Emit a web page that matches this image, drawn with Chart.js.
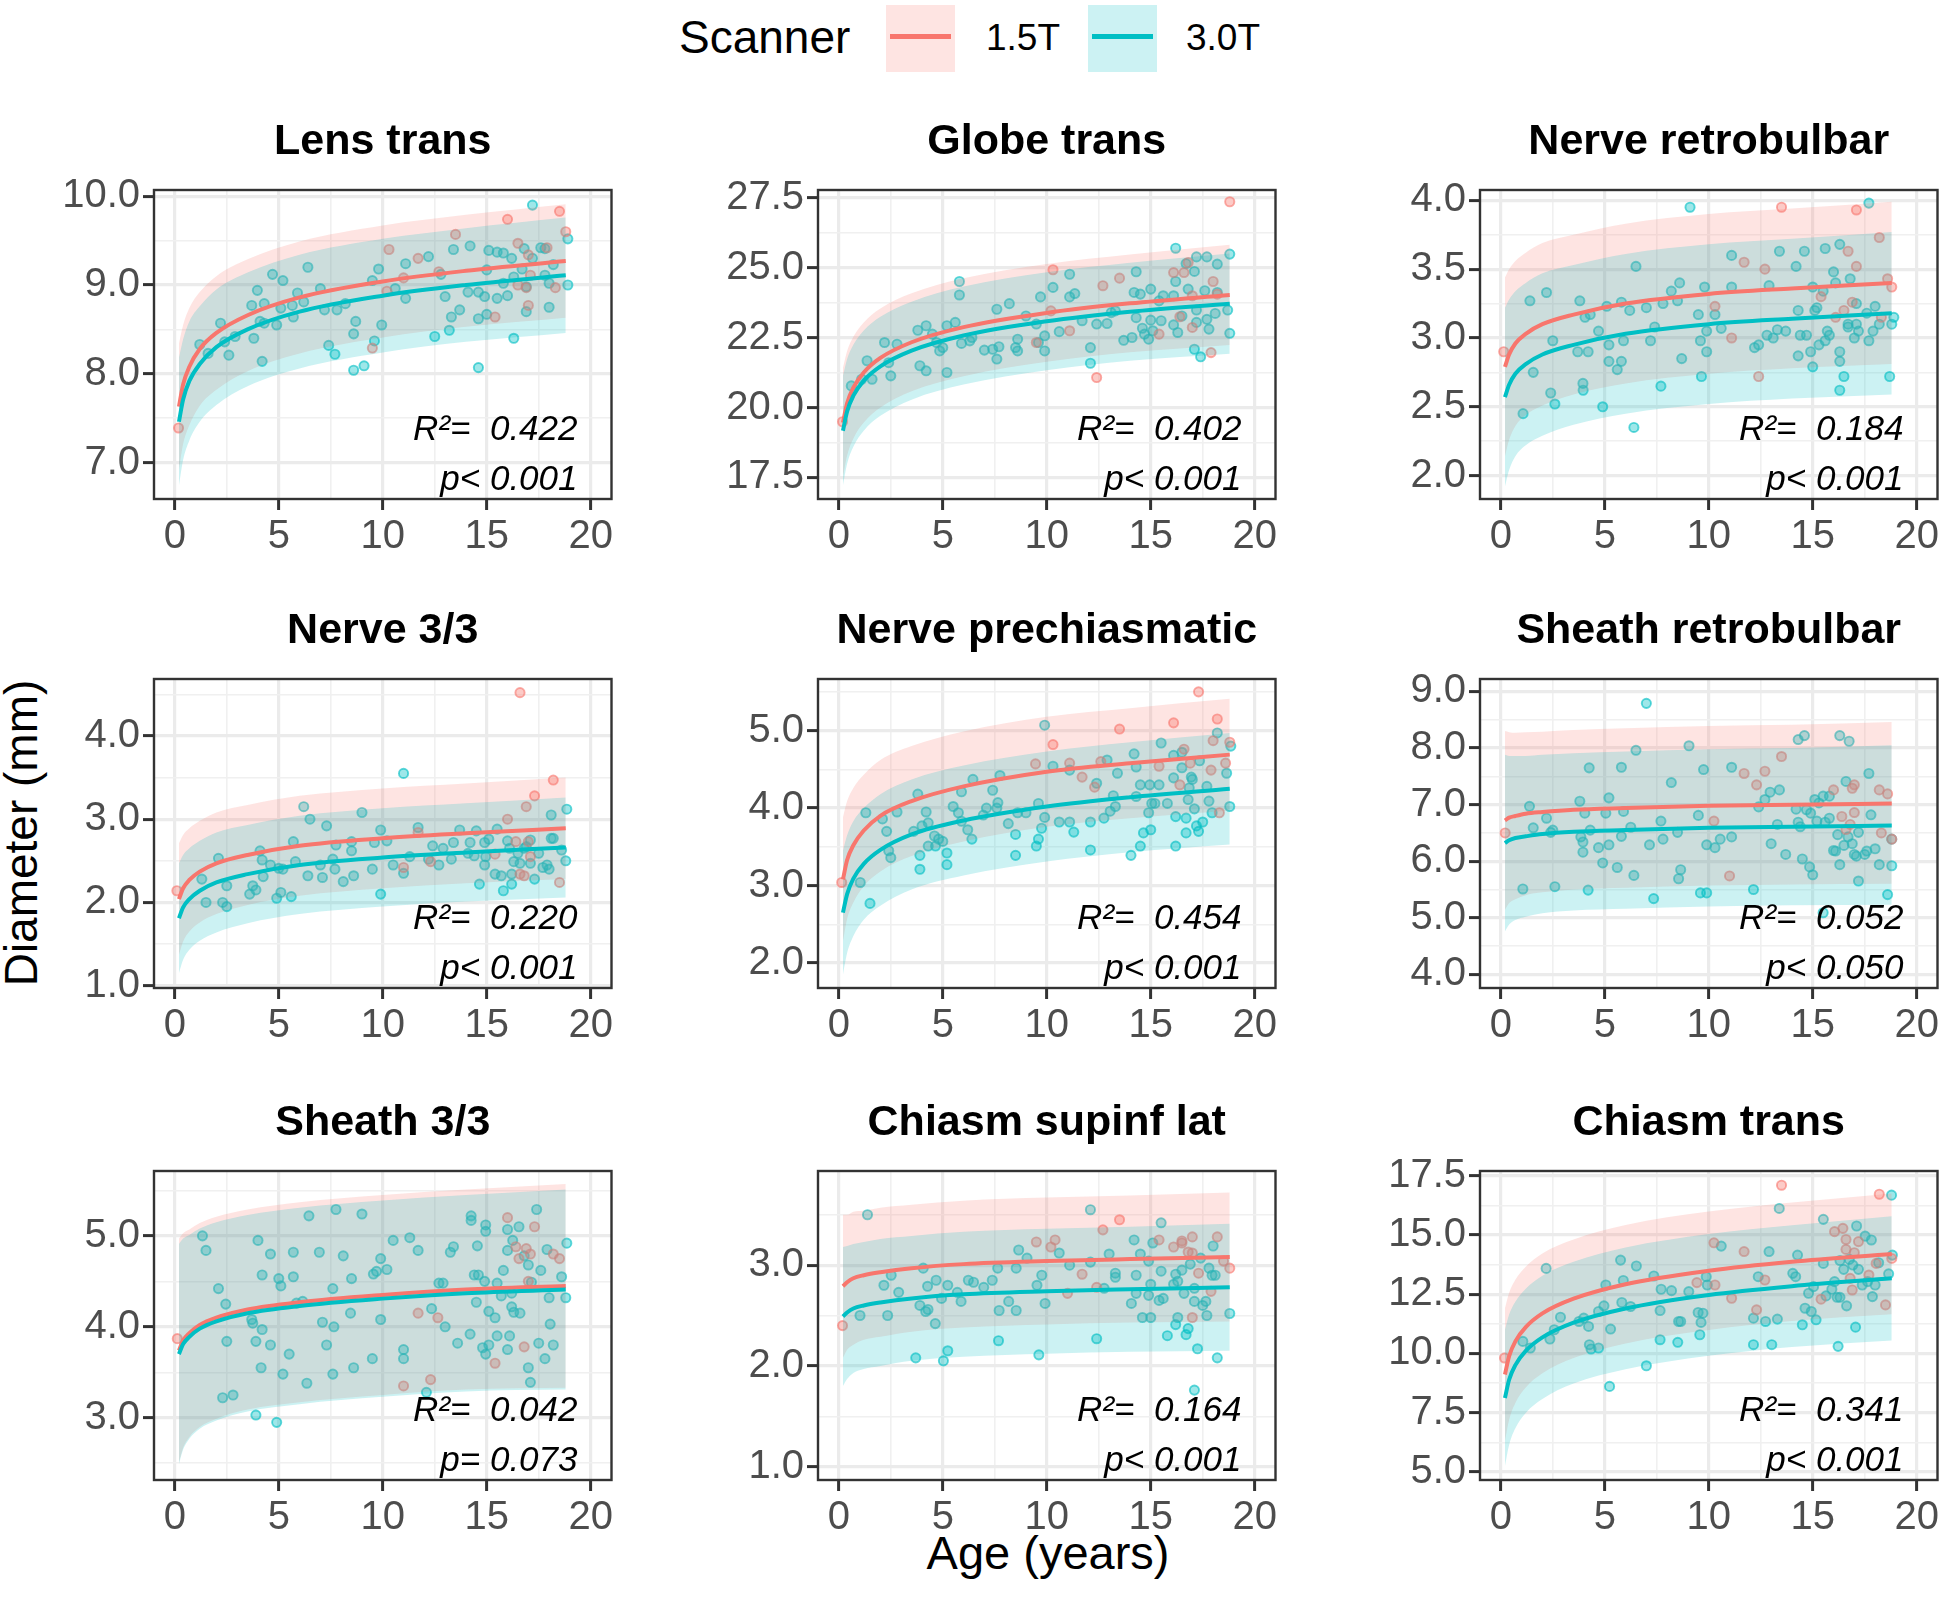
<!DOCTYPE html>
<html>
<head>
<meta charset="UTF-8">
<script src="https://cdn.jsdelivr.net/npm/chart.js@4.4.0/dist/chart.umd.min.js"></script>
<title>Diameter by age</title>
<style>
body{margin:0;background:#fff;font-family:"Liberation Sans",Arial,sans-serif}
#page{position:relative;width:1944px;height:1597px;overflow:hidden;background:#fff}
.panel{position:absolute}
.txt{position:absolute;color:#000;white-space:nowrap;line-height:1}
.key{position:absolute;top:5px;width:69px;height:67px}
.key span{position:absolute;left:4px;right:4px;top:29px;height:5px}
</style>
</head>
<body>
<div id="page">
  <div class="txt" style="left:679px;top:14px;font-size:46px">Scanner</div>
  <div class="key" style="left:886px;background:rgba(248,118,109,0.2)"><span style="background:#F8766D"></span></div>
  <div class="txt" style="left:986px;top:19px;font-size:37px">1.5T</div>
  <div class="key" style="left:1088px;background:rgba(0,191,196,0.2)"><span style="background:#00BFC4"></span></div>
  <div class="txt" style="left:1186px;top:19px;font-size:37px">3.0T</div>
  <div class="txt" style="left:1048px;top:1529px;font-size:47px;transform:translateX(-50%)">Age (years)</div>
  <div class="txt" style="left:21px;top:833px;font-size:46px;transform:translate(-50%,-50%) rotate(-90deg)">Diameter (mm)</div>
</div>
<script>
// ages where the fitted curves / bands are read
var ages = [0.2, 0.4, 0.7, 1.2, 2, 3.5, 6, 10, 14, 18.8];
var xTicks = [0, 5, 10, 15, 20];

// ---- Lens trans
var lensRed = [[0.18,7.39],[10.3,9.40],[11.7,9.30],[13.5,9.57],[12.7,9.15],[11.0,9.08],[10.2,8.93],[9.5,8.29],[15.4,8.64],[16.0,9.74],[16.5,9.0],[16.5,9.47],[17.0,9.34],[17.0,8.77],[17.1,9.11],[17.9,9.42],[18.3,8.97],[18.5,9.83],[18.8,9.60],[16.9,8.97]];
var lensTeal = [[1.2,8.33],[1.6,8.23],[2.2,8.57],[2.6,8.21],[2.4,8.36],[2.9,8.42],[3.8,8.40],[3.7,8.77],[3.97,8.94],[4.3,8.79],[4.1,8.59],[4.2,8.14],[4.3,8.57],[4.7,9.12],[4.9,8.55],[5.2,9.05],[5.1,8.74],[5.65,8.77],[5.7,8.64],[5.9,8.91],[6.2,8.81],[6.4,9.20],[7.0,8.96],[7.2,8.72],[7.4,8.32],[7.7,8.22],[7.8,8.72],[8.2,8.79],[8.6,8.45],[8.6,8.04],[8.7,8.59],[9.1,8.09],[9.5,9.05],[9.6,8.37],[9.8,9.18],[9.95,8.55],[10.6,8.96],[11.1,9.24],[11.1,8.85],[12.2,9.32],[12.5,8.42],[12.8,9.12],[13.0,8.87],[13.2,8.49],[13.3,8.64],[13.4,9.40],[13.7,8.72],[14.2,9.44],[14.1,8.92],[14.6,8.92],[14.6,8.62],[14.6,8.07],[14.9,8.87],[15.0,8.67],[15.1,9.39],[15.0,9.17],[15.5,9.37],[15.5,8.85],[15.8,9.36],[15.8,9.02],[16.0,8.88],[16.2,9.30],[16.3,9.09],[16.3,8.40],[16.7,9.18],[16.8,9.41],[16.9,8.70],[16.9,8.98],[17.2,9.90],[17.2,9.30],[17.6,9.42],[17.8,9.41],[17.8,9.11],[18.0,8.75],[18.0,9.02],[18.2,9.23],[18.9,9.52],[18.9,9.00]];
var lensRedFit = [7.63,7.88,8.08,8.28,8.46,8.66,8.86,9.04,9.16,9.27];
var lensRedLo = [6.92,7.21,7.42,7.64,7.82,8.03,8.23,8.41,8.53,8.63];
var lensRedHi = [8.34,8.55,8.74,8.92,9.10,9.29,9.49,9.67,9.79,9.91];
var lensTealFit = [7.46,7.71,7.92,8.11,8.30,8.50,8.70,8.88,9.00,9.11];
var lensTealLo = [6.74,7.03,7.25,7.46,7.65,7.86,8.06,8.24,8.36,8.46];
var lensTealHi = [8.18,8.39,8.59,8.76,8.95,9.14,9.34,9.52,9.64,9.76];

// ---- Globe trans
var globeRed = [[0.18,19.49],[10.3,24.92],[13.5,24.62],[12.7,24.35],[10.2,23.45],[11.1,22.74],[9.5,22.32],[12.4,21.07],[15.4,22.62],[16.1,24.82],[16.6,24.82],[16.8,25.18],[16.4,23.24],[17.0,23.99],[17.0,22.86],[17.9,21.96],[18.0,24.5],[18.2,24.05],[18.8,27.35]];
var globeTeal = [[0.6,20.77],[1.1,21.01],[1.36,21.67],[1.6,21.01],[2.2,22.32],[2.4,21.6],[2.5,21.13],[2.8,22.26],[3.8,22.76],[3.9,21.49],[4.2,21.31],[4.2,22.92],[4.5,22.62],[4.7,22.32],[4.85,22.02],[5.0,22.14],[5.2,21.25],[5.2,22.92],[5.6,23.04],[5.8,24.5],[5.8,24.02],[5.9,22.29],[6.3,22.38],[6.4,22.5],[7.0,22.05],[7.4,22.08],[7.6,23.51],[7.6,21.73],[7.7,22.17],[8.2,23.71],[8.5,22.14],[8.6,22.02],[8.6,22.44],[9.0,23.27],[9.5,22.98],[9.6,22.32],[9.7,23.95],[9.9,22.56],[9.9,22.02],[10.3,24.29],[10.6,22.71],[11.1,24.76],[11.1,23.95],[11.35,24.07],[11.7,23.1],[12.1,22.14],[12.1,21.58],[12.4,22.98],[12.9,23.0],[13.1,23.39],[13.3,23.45],[13.7,22.4],[14.1,22.5],[14.2,24.11],[14.3,23.21],[14.3,24.85],[14.5,24.05],[14.6,22.83],[14.7,22.62],[14.9,22.44],[15.0,24.23],[15.0,23.12],[15.1,22.74],[15.4,23.81],[15.5,23.1],[15.6,23.99],[16.1,23.99],[16.1,22.95],[16.2,24.5],[16.2,25.69],[16.3,22.68],[16.5,23.27],[16.7,25.14],[16.8,24.23],[17.1,24.86],[17.2,25.38],[17.2,23.48],[17.1,22.08],[17.2,23.04],[17.4,21.81],[17.6,24.17],[17.7,23.15],[17.7,25.38],[17.8,22.8],[18.1,23.36],[18.2,25.12],[18.2,24.11],[18.7,23.48],[18.8,25.48],[18.8,22.65]];
var globeRedFit = [19.46,20.15,20.71,21.25,21.77,22.33,22.87,23.38,23.72,24.02];
var globeRedLo = [17.50,18.28,18.89,19.46,20.00,20.58,21.12,21.63,21.97,22.23];
var globeRedHi = [21.42,22.02,22.53,23.04,23.54,24.08,24.62,25.13,25.47,25.81];
var globeTealFit = [19.17,19.86,20.42,20.96,21.47,22.03,22.57,23.08,23.42,23.71];
var globeTealLo = [17.21,17.99,18.60,19.17,19.70,20.28,20.82,21.33,21.67,21.92];
var globeTealHi = [21.13,21.73,22.24,22.75,23.24,23.78,24.32,24.83,25.17,25.50];

// ---- Nerve retrobulbar
var nrRed = [[0.14,2.90],[10.3,3.23],[11.1,3.0],[11.7,3.55],[12.4,2.72],[12.7,3.50],[13.5,3.95],[15.4,3.30],[16.1,3.15],[16.5,3.20],[16.7,3.63],[16.9,3.26],[17.1,3.52],[17.1,3.93],[18.2,3.73],[18.3,3.15],[18.6,3.43],[18.8,3.37]];
var nrTeal = [[1.07,2.45],[1.4,3.27],[1.56,2.75],[2.2,3.33],[2.4,2.60],[2.5,2.98],[2.6,2.52],[3.7,2.90],[3.8,3.27],[3.95,2.67],[3.96,2.62],[4.05,3.15],[4.2,2.90],[4.3,3.17],[4.7,3.05],[4.9,2.50],[5.1,3.23],[5.2,2.95],[5.2,2.83],[5.6,2.77],[5.8,3.26],[5.8,2.83],[5.9,2.98],[6.2,3.20],[6.4,2.35],[6.5,3.52],[7.0,3.22],[7.2,2.98],[7.4,3.08],[7.7,2.65],[7.8,3.25],[8.2,3.34],[8.5,3.27],[8.6,3.40],[8.7,2.85],[9.1,3.95],[9.5,3.17],[9.6,2.98],[9.65,2.72],[9.8,3.37],[9.9,2.90],[9.9,3.05],[10.3,3.17],[10.6,3.07],[11.1,3.60],[11.1,3.37],[12.2,2.93],[12.4,2.95],[12.8,3.02],[12.9,3.38],[13.1,3.0],[13.3,3.06],[13.4,3.63],[13.7,3.05],[14.2,3.52],[14.3,3.20],[14.3,2.87],[14.4,3.02],[14.6,3.63],[14.7,3.02],[14.9,2.90],[15.0,3.37],[15.0,2.79],[15.1,3.20],[15.2,3.22],[15.3,2.95],[15.5,3.34],[15.6,3.65],[15.6,2.98],[15.7,3.05],[15.8,3.02],[16.0,3.48],[16.1,3.40],[16.3,2.90],[16.3,2.83],[16.3,2.62],[16.3,3.68],[16.5,2.72],[16.7,3.10],[16.7,3.08],[16.8,3.43],[17.0,3.00],[17.1,3.10],[17.1,3.25],[17.2,3.05],[17.6,3.18],[17.7,2.98],[17.7,3.98],[17.9,3.05],[18.0,3.23],[18.2,3.10],[18.7,2.72],[18.8,3.10],[18.9,3.15]];
var nrRedFit = [2.79,2.88,2.96,3.03,3.10,3.17,3.25,3.32,3.36,3.40];
var nrRedLo = [2.14,2.26,2.36,2.44,2.51,2.59,2.67,2.74,2.78,2.81];
var nrRedHi = [3.44,3.50,3.56,3.62,3.69,3.75,3.83,3.90,3.94,3.99];
var nrTealFit = [2.57,2.66,2.74,2.81,2.88,2.95,3.03,3.10,3.14,3.18];
var nrTealLo = [1.92,2.04,2.14,2.22,2.29,2.37,2.45,2.52,2.56,2.59];
var nrTealHi = [3.22,3.28,3.34,3.40,3.47,3.53,3.61,3.68,3.72,3.77];

// ---- Nerve 3/3
var n33Red = [[0.1,2.14],[11.0,2.42],[11.7,2.84],[12.3,2.49],[15.4,2.58],[16.0,3.0],[16.4,2.73],[16.6,4.52],[16.6,2.34],[16.8,2.32],[16.9,3.15],[17.0,2.73],[17.1,2.55],[17.3,3.28],[18.2,3.47],[18.5,2.24]];
var n33Teal = [[1.3,2.28],[1.5,2.0],[2.1,2.53],[2.3,2.0],[2.5,2.20],[2.5,1.95],[3.6,2.10],[3.75,2.20],[3.9,2.15],[4.1,2.62],[4.2,2.51],[4.25,2.31],[4.6,2.45],[4.9,2.05],[5.0,2.41],[5.1,2.12],[5.2,2.40],[5.6,2.07],[5.7,2.73],[5.8,2.49],[6.2,3.15],[6.4,2.32],[6.5,3.0],[7.0,2.45],[7.1,2.30],[7.3,2.92],[7.6,2.52],[7.7,2.40],[7.75,2.69],[8.1,2.25],[8.5,2.62],[8.6,2.32],[8.5,2.73],[9.0,3.08],[9.5,2.40],[9.6,2.72],[9.9,2.87],[9.9,2.10],[10.2,2.74],[10.5,2.45],[11.0,3.55],[11.0,2.35],[11.3,2.55],[11.7,2.90],[12.2,2.52],[12.4,2.68],[12.7,2.45],[12.9,2.65],[13.3,2.52],[13.4,2.72],[13.7,2.87],[14.1,2.59],[14.2,2.72],[14.4,2.56],[14.5,2.86],[14.65,2.22],[14.9,2.45],[14.9,2.72],[14.95,2.55],[15.1,2.76],[15.4,2.34],[15.5,2.88],[15.7,2.32],[15.8,2.14],[16.0,2.74],[16.1,2.65],[16.2,2.34],[16.2,2.22],[16.3,2.49],[16.5,2.59],[16.6,2.47],[16.8,2.65],[16.9,2.67],[17.1,2.75],[17.1,2.47],[17.3,2.28],[17.5,2.59],[17.7,2.42],[17.9,2.45],[18.0,2.40],[18.1,2.77],[18.1,3.05],[18.2,2.77],[18.6,2.63],[18.8,2.50],[18.85,3.12]];
var n33RedFit = [2.04,2.17,2.27,2.37,2.47,2.57,2.68,2.77,2.83,2.89];
var n33RedLo = [1.37,1.53,1.65,1.76,1.86,1.97,2.08,2.17,2.23,2.28];
var n33RedHi = [2.71,2.81,2.89,2.98,3.08,3.17,3.28,3.37,3.43,3.50];
var n33TealFit = [1.81,1.94,2.04,2.14,2.24,2.34,2.45,2.54,2.60,2.66];
var n33TealLo = [1.15,1.31,1.43,1.54,1.64,1.75,1.86,1.95,2.01,2.06];
var n33TealHi = [2.47,2.57,2.65,2.74,2.84,2.93,3.04,3.13,3.19,3.26];

// ---- Nerve prechiasmatic
var npRed = [[0.14,3.04],[9.46,4.57],[10.3,4.82],[11.1,4.58],[11.7,4.40],[12.3,4.27],[12.6,4.60],[13.5,5.02],[15.4,4.54],[16.1,5.10],[16.4,4.30],[16.6,4.76],[16.9,4.58],[17.3,5.50],[17.9,4.49],[18.2,5.15],[18.0,4.87],[18.3,3.94],[18.6,4.58],[18.8,4.85]];
var npTeal = [[1.03,3.04],[1.3,3.94],[1.5,2.77],[2.1,3.86],[2.3,3.70],[2.4,3.45],[2.5,3.36],[2.8,3.95],[3.6,3.70],[3.8,4.18],[3.9,3.39],[3.9,3.21],[4.0,3.77],[4.2,3.95],[4.3,3.51],[4.3,3.81],[4.6,3.64],[4.65,3.51],[4.8,3.60],[5.0,3.57],[5.2,3.42],[5.2,3.27],[5.5,4.02],[5.75,3.94],[5.9,4.21],[5.9,3.83],[6.2,3.72],[6.4,3.60],[6.45,4.37],[6.95,3.91],[7.1,4.00],[7.4,4.23],[7.6,4.0],[7.65,4.07],[7.75,4.42],[8.15,3.80],[8.5,3.66],[8.5,3.39],[8.6,3.94],[9.0,3.94],[9.5,3.51],[9.6,3.60],[9.6,4.06],[9.75,3.74],[9.9,5.07],[9.9,3.88],[10.3,4.54],[10.6,3.82],[11.1,3.82],[11.1,4.49],[11.3,3.69],[12.1,3.82],[12.1,3.46],[12.4,4.32],[12.75,3.87],[12.9,4.62],[13.05,3.96],[13.2,4.16],[13.3,4.02],[13.4,4.45],[14.05,3.39],[14.2,4.70],[14.3,4.15],[14.3,4.53],[14.5,4.30],[14.5,3.51],[14.65,3.68],[14.9,3.94],[14.95,4.30],[15.0,3.72],[15.05,4.06],[15.2,4.06],[15.4,4.30],[15.5,4.84],[15.8,4.06],[16.1,4.39],[16.1,4.68],[16.2,3.89],[16.2,3.51],[16.5,4.52],[16.5,4.72],[16.7,3.87],[16.7,3.68],[16.8,4.11],[16.85,4.26],[16.95,4.40],[17.0,4.37],[17.1,3.99],[17.2,3.77],[17.3,3.70],[17.35,4.61],[17.5,3.82],[17.7,4.28],[17.8,4.09],[17.95,3.94],[18.2,4.97],[18.65,4.45],[18.8,4.02],[18.85,4.80]];
var npRedFit = [3.08,3.33,3.52,3.71,3.90,4.09,4.28,4.47,4.58,4.69];
var npRedLo = [2.28,2.57,2.78,2.99,3.18,3.38,3.57,3.76,3.87,3.97];
var npRedHi = [3.88,4.09,4.26,4.43,4.62,4.80,4.99,5.18,5.29,5.41];
var npTealFit = [2.65,2.89,3.09,3.28,3.46,3.66,3.84,4.02,4.14,4.25];
var npTealLo = [1.85,2.13,2.35,2.56,2.74,2.95,3.13,3.31,3.43,3.53];
var npTealHi = [3.45,3.65,3.83,4.00,4.18,4.37,4.55,4.73,4.85,4.97];

// ---- Sheath retrobulbar
var srRed = [[0.21,6.50],[10.25,6.71],[11.0,5.74],[11.7,7.55],[12.3,7.35],[12.7,7.59],[13.5,7.85],[16.0,7.26],[16.4,6.79],[16.6,6.56],[16.8,6.65],[16.9,7.29],[17.0,7.35],[17.0,6.86],[18.2,7.26],[18.3,6.5],[18.6,7.19],[18.8,6.39]];
var srTeal = [[1.06,5.51],[1.38,6.97],[1.56,6.59],[2.2,6.76],[2.4,6.51],[2.5,6.55],[2.6,5.55],[3.8,7.06],[3.85,6.43],[3.95,6.34],[3.95,6.16],[4.04,6.85],[4.2,5.49],[4.25,7.65],[4.3,6.55],[4.7,6.24],[4.9,5.97],[5.05,6.85],[5.2,7.12],[5.2,6.29],[5.6,5.89],[5.8,6.44],[5.8,7.66],[5.9,6.88],[6.25,6.6],[6.4,5.75],[6.5,7.96],[7.0,8.79],[7.15,6.29],[7.35,5.34],[7.7,6.71],[7.8,6.39],[8.2,7.39],[8.5,6.51],[8.55,5.69],[8.65,5.85],[9.05,8.04],[9.5,6.81],[9.6,5.44],[9.75,7.62],[9.9,6.29],[9.9,5.44],[10.3,6.24],[10.55,6.39],[11.1,6.43],[11.1,7.66],[12.15,5.5],[12.4,6.96],[12.7,7.09],[12.95,7.22],[13.0,6.31],[13.3,6.65],[13.4,7.26],[13.7,6.12],[14.2,6.92],[14.3,8.15],[14.3,6.69],[14.4,6.61],[14.5,6.04],[14.6,8.22],[14.7,6.91],[14.85,5.9],[14.9,6.85],[15.0,5.76],[15.1,7.09],[15.2,6.71],[15.3,7.03],[15.5,5.09],[15.5,7.15],[15.6,6.69],[15.8,7.15],[15.8,6.76],[16.0,6.19],[16.1,6.18],[16.2,6.47],[16.3,8.22],[16.3,5.94],[16.5,6.28],[16.6,7.41],[16.7,6.43],[16.75,8.12],[16.9,6.31],[17.0,6.12],[17.1,6.09],[17.2,6.51],[17.2,5.65],[17.5,6.12],[17.6,6.18],[17.7,7.55],[17.8,6.82],[18.0,6.22],[18.2,5.94],[18.6,5.41],[18.8,5.92],[18.8,6.39]];
var srRedFit = [6.72,6.77,6.80,6.84,6.87,6.91,6.94,6.98,7.00,7.02];
var srRedLo = [5.14,5.26,5.33,5.40,5.45,5.50,5.53,5.57,5.59,5.60];
var srRedHi = [8.30,8.28,8.27,8.28,8.29,8.32,8.35,8.39,8.41,8.46];
var srTealFit = [6.32,6.37,6.41,6.44,6.48,6.52,6.55,6.59,6.61,6.63];
var srTealLo = [4.76,4.88,4.96,5.02,5.08,5.13,5.16,5.20,5.22,5.23];
var srTealHi = [7.88,7.86,7.86,7.86,7.88,7.91,7.94,7.98,8.00,8.05];

// ---- Sheath 3/3
var s33Red = [[0.12,3.87],[11.0,3.35],[11.7,4.15],[12.3,3.42],[12.65,4.10],[15.4,3.60],[16.0,5.20],[16.4,4.88],[16.55,4.75],[16.8,3.78],[16.9,4.86],[17.0,4.50],[17.1,4.80],[17.3,5.10],[18.2,4.80],[18.5,4.75]];
var s33Teal = [[1.33,5.0],[1.5,4.84],[2.1,4.42],[2.3,3.22],[2.45,4.25],[2.5,3.84],[2.8,3.25],[3.7,4.08],[3.75,4.04],[3.9,3.84],[3.9,3.03],[4.0,4.95],[4.15,3.55],[4.2,4.57],[4.2,3.97],[4.6,3.80],[4.6,4.80],[4.9,2.95],[5.0,4.53],[5.1,4.45],[5.2,3.48],[5.5,3.70],[5.7,4.82],[5.7,4.55],[5.85,4.26],[6.15,4.28],[6.35,3.38],[6.45,5.22],[6.95,4.82],[7.1,4.05],[7.3,3.80],[7.6,4.42],[7.6,3.48],[7.65,4.0],[7.75,5.29],[8.1,4.78],[8.45,4.15],[8.5,4.53],[8.6,3.55],[9.0,5.24],[9.5,3.65],[9.55,4.58],[9.7,4.61],[9.9,4.75],[9.9,4.08],[10.2,4.63],[10.5,4.95],[11.0,3.75],[11.0,3.65],[11.3,4.98],[11.7,4.84],[12.1,3.28],[12.35,4.20],[12.7,4.48],[12.9,4.48],[13.0,4.0],[13.25,4.82],[13.4,4.88],[13.6,3.82],[14.2,3.92],[14.25,5.22],[14.25,5.17],[14.4,4.57],[14.5,4.27],[14.55,4.89],[14.6,4.57],[14.8,3.77],[14.9,4.50],[14.95,3.70],[14.95,5.05],[14.95,5.12],[15.1,3.80],[15.1,4.17],[15.4,4.10],[15.5,4.48],[15.5,3.90],[15.7,4.34],[15.8,4.62],[16.0,3.75],[16.0,5.07],[16.0,4.84],[16.1,3.90],[16.2,4.37],[16.2,4.22],[16.25,4.95],[16.3,4.16],[16.55,5.10],[16.6,4.15],[16.8,4.78],[17.0,3.55],[17.0,4.68],[17.1,3.39],[17.15,4.49],[17.4,5.29],[17.5,3.82],[17.6,4.62],[17.8,3.65],[17.9,4.85],[18.0,4.32],[18.05,4.03],[18.2,3.80],[18.6,4.55],[18.8,4.32],[18.85,4.92]];
var s33RedFit = [3.74,3.85,3.93,4.02,4.10,4.19,4.27,4.35,4.41,4.45];
var s33RedLo = [2.51,2.67,2.79,2.90,2.99,3.09,3.17,3.25,3.31,3.33];
var s33RedHi = [4.97,5.03,5.07,5.14,5.21,5.29,5.37,5.45,5.51,5.57];
var s33TealFit = [3.70,3.81,3.89,3.98,4.06,4.15,4.23,4.31,4.37,4.41];
var s33TealLo = [2.49,2.65,2.77,2.88,2.97,3.07,3.15,3.23,3.29,3.31];
var s33TealHi = [4.91,4.97,5.01,5.08,5.15,5.23,5.31,5.39,5.45,5.51];

// ---- Chiasm supinf lat
var csRed = [[0.18,2.40],[9.5,3.23],[10.2,3.18],[10.4,3.25],[11.0,2.72],[11.7,2.91],[12.4,2.78],[12.7,3.35],[13.5,3.45],[15.4,3.25],[16.1,3.18],[16.5,3.24],[16.5,3.22],[16.8,3.13],[17.0,3.12],[17.0,3.28],[17.0,2.48],[17.3,2.92],[17.9,2.74],[18.2,3.28],[18.5,3.04],[18.8,2.97]];
var csTeal = [[1.02,2.50],[1.38,3.50],[2.17,2.80],[2.35,2.50],[2.52,2.90],[2.88,2.73],[3.7,2.08],[3.9,2.60],[4.06,2.97],[4.18,2.54],[4.27,2.79],[4.29,2.56],[4.64,2.42],[4.68,2.85],[4.94,2.67],[5.03,2.05],[5.24,2.15],[5.24,2.80],[5.7,2.73],[5.88,2.64],[6.23,2.85],[6.48,2.83],[6.97,2.78],[7.38,2.85],[7.64,2.97],[7.68,2.25],[7.71,2.55],[8.17,2.64],[8.53,2.55],[8.53,2.97],[8.65,3.15],[9.05,3.07],[9.53,2.80],[9.62,2.11],[9.76,2.90],[9.92,2.62],[10.6,3.12],[11.1,3.0],[12.1,3.55],[12.1,3.03],[12.4,2.27],[12.76,2.77],[13.0,3.11],[13.3,2.92],[13.3,2.88],[14.07,2.62],[14.2,3.25],[14.3,2.90],[14.3,2.72],[14.5,3.11],[14.6,2.48],[14.9,2.70],[14.9,3.04],[15.0,2.48],[15.0,2.81],[15.1,3.22],[15.4,2.65],[15.5,2.94],[15.5,3.42],[15.6,2.67],[15.8,2.30],[16.1,2.81],[16.2,2.41],[16.2,2.91],[16.3,2.48],[16.3,2.84],[16.5,2.95],[16.6,2.72],[16.7,2.31],[16.8,2.37],[16.9,3.01],[17.1,2.64],[17.1,2.77],[17.1,1.76],[17.25,2.17],[17.4,3.07],[17.5,2.60],[17.65,2.64],[17.7,2.50],[17.8,2.97],[17.95,2.90],[18.0,3.19],[18.1,2.90],[18.2,2.08],[18.8,2.52]];
var csRedFit = [2.79,2.83,2.87,2.90,2.93,2.97,3.01,3.04,3.06,3.08];
var csRedLo = [2.08,2.16,2.21,2.26,2.29,2.34,2.38,2.41,2.43,2.44];
var csRedHi = [3.50,3.50,3.53,3.54,3.57,3.60,3.64,3.67,3.69,3.72];
var csTealFit = [2.49,2.53,2.57,2.60,2.63,2.67,2.71,2.74,2.76,2.78];
var csTealLo = [1.80,1.87,1.93,1.97,2.00,2.05,2.09,2.12,2.14,2.15];
var csTealHi = [3.18,3.19,3.21,3.23,3.26,3.29,3.33,3.36,3.38,3.41];

// ---- Chiasm trans
var ctRed = [[0.18,9.81],[9.43,12.99],[10.25,14.67],[10.3,12.89],[11.1,12.33],[11.7,14.3],[12.3,11.84],[12.7,13.1],[13.5,17.1],[15.4,12.29],[16.05,15.14],[16.45,15.28],[16.6,14.81],[16.6,14.39],[16.8,13.17],[16.9,12.68],[17.0,14.25],[17.2,14.72],[17.7,13.31],[18.05,13.8],[18.2,16.72],[18.5,12.05],[18.8,14.01]];
var ctTeal = [[1.06,10.51],[1.42,10.23],[2.18,13.59],[2.36,10.61],[2.57,11.0],[2.87,11.53],[3.76,11.35],[3.99,11.49],[4.22,11.14],[4.26,10.37],[4.34,10.19],[4.7,10.23],[4.7,11.77],[4.96,12.01],[5.05,12.89],[5.23,8.61],[5.28,11.03],[5.76,13.94],[5.82,12.15],[5.89,13.08],[6.24,11.98],[6.52,13.69],[7.0,9.48],[7.36,13.27],[7.66,10.58],[7.66,11.81],[7.71,12.71],[8.21,12.65],[8.51,10.47],[8.55,11.35],[8.65,11.35],[9.04,12.61],[9.49,11.73],[9.57,10.79],[9.63,11.31],[9.72,11.7],[9.88,13.24],[9.93,12.89],[10.6,14.53],[12.15,11.49],[12.15,10.37],[12.38,13.24],[12.73,11.35],[12.9,14.3],[13.03,10.37],[13.3,11.45],[13.39,16.12],[14.04,13.38],[14.18,13.24],[14.27,14.15],[14.5,11.21],[14.63,11.91],[14.8,12.54],[14.93,11.77],[15.04,12.82],[15.16,11.42],[15.51,15.66],[15.51,13.8],[15.64,12.43],[15.92,12.71],[16.05,13.03],[16.17,12.37],[16.22,10.3],[16.31,13.92],[16.31,12.37],[16.49,13.55],[16.63,12.01],[16.76,13.97],[16.93,13.73],[17.06,11.11],[17.11,15.38],[17.2,13.55],[17.38,12.89],[17.52,14.95],[17.64,13.03],[17.82,14.79],[17.87,12.4],[18.0,12.89],[18.17,13.83],[18.65,13.36],[18.79,16.68],[18.83,14.15]];
var ctRedFit = [9.11,9.88,10.51,11.11,11.69,12.31,12.92,13.49,13.87,14.20];
var ctRedLo = [6.31,7.20,7.91,8.56,9.16,9.81,10.42,10.99,11.37,11.65];
var ctRedHi = [11.91,12.56,13.11,13.66,14.22,14.81,15.42,15.99,16.37,16.75];
var ctTealFit = [8.12,8.89,9.51,10.11,10.68,11.30,11.90,12.47,12.84,13.17];
var ctTealLo = [5.24,6.14,6.84,7.49,8.08,8.73,9.33,9.90,10.27,10.55];
var ctTealHi = [11.00,11.64,12.18,12.73,13.28,13.87,14.47,15.04,15.41,15.79];

var panels = [
  {title:'Lens trans', y:[6.59,10.07], ticks:[7,8,9,10], r2:'0.422', p:'p< 0.001',
   pts:[lensRed,lensTeal], curves:[lensRedFit,lensRedLo,lensRedHi,lensTealFit,lensTealLo,lensTealHi]},
  {title:'Globe trans', y:[16.73,27.77], ticks:[17.5,20,22.5,25,27.5], r2:'0.402', p:'p< 0.001',
   pts:[globeRed,globeTeal], curves:[globeRedFit,globeRedLo,globeRedHi,globeTealFit,globeTealLo,globeTealHi]},
  {title:'Nerve retrobulbar', y:[1.83,4.075], ticks:[2,2.5,3,3.5,4], r2:'0.184', p:'p< 0.001',
   pts:[nrRed,nrTeal], curves:[nrRedFit,nrRedLo,nrRedHi,nrTealFit,nrTealLo,nrTealHi]},
  {title:'Nerve 3/3', y:[0.972,4.684], ticks:[1,2,3,4], r2:'0.220', p:'p< 0.001',
   pts:[n33Red,n33Teal], curves:[n33RedFit,n33RedLo,n33RedHi,n33TealFit,n33TealLo,n33TealHi]},
  {title:'Nerve prechiasmatic', y:[1.678,5.666], ticks:[2,3,4,5], r2:'0.454', p:'p< 0.001',
   pts:[npRed,npTeal], curves:[npRedFit,npRedLo,npRedHi,npTealFit,npTealLo,npTealHi]},
  {title:'Sheath retrobulbar', y:[3.76,9.22], ticks:[4,5,6,7,8,9], r2:'0.052', p:'p< 0.050',
   pts:[srRed,srTeal], curves:[srRedFit,srRedLo,srRedHi,srTealFit,srTealLo,srTealHi]},
  {title:'Sheath 3/3', y:[2.316,5.713], ticks:[3,4,5], r2:'0.042', p:'p= 0.073',
   pts:[s33Red,s33Teal], curves:[s33RedFit,s33RedLo,s33RedHi,s33TealFit,s33TealLo,s33TealHi]},
  {title:'Chiasm supinf lat', y:[0.868,3.934], ticks:[1,2,3], r2:'0.164', p:'p< 0.001',
   pts:[csRed,csTeal], curves:[csRedFit,csRedLo,csRedHi,csTealFit,csTealLo,csTealHi]},
  {title:'Chiasm trans', y:[4.66,17.70], ticks:[5,7.5,10,12.5,15,17.5], r2:'0.341', p:'p< 0.001',
   pts:[ctRed,ctTeal], curves:[ctRedFit,ctRedLo,ctRedHi,ctTealFit,ctTealLo,ctTealHi]}
];

var colLeft = [154, 818, 1480], rowTop = [190, 679, 1171];
var plotW = 462, plotH = 309, padL = 130, padT = 80, padB = 70, padR = 2;
var RED = '#F8766D', TEAL = '#00BFC4';

// majors plus the half-way minor lines, kept inside the axis range
function gridVals(majors, lo, hi) {
  var step = majors[1] - majors[0], out = [];
  for (var v = majors[0] - step; v <= majors[majors.length - 1] + step + 1e-9; v += step / 2) {
    if (v >= lo - 1e-9 && v <= hi + 1e-9) out.push(+v.toFixed(4));
  }
  return out;
}
function isMajor(majors, v) {
  return majors.some(function (m) { return Math.abs(m - v) < 1e-6; });
}
function xy(pairs) { return pairs.map(function (d) { return {x: d[0], y: d[1]}; }); }
function curve(vals) { return vals.map(function (v, i) { return {x: ages[i], y: v}; }); }

var decor = {
  id: 'decor',
  afterDraw: function (chart, args, o) {
    var ctx = chart.ctx, a = chart.chartArea;
    ctx.save();
    ctx.strokeStyle = '#333333';
    ctx.lineWidth = 2.4;
    ctx.strokeRect(a.left, a.top, a.right - a.left, a.bottom - a.top);
    ctx.fillStyle = '#000';
    ctx.textBaseline = 'alphabetic';
    ctx.font = 'bold 43px "Liberation Sans"';
    ctx.textAlign = 'center';
    ctx.fillText(o.title, (a.left + a.right) / 2, a.top - 36);
    ctx.font = 'italic 35px "Liberation Sans"';
    ctx.textAlign = 'right';
    ctx.fillText('R\u00b2=  ' + o.r2, a.right - 34, a.bottom - 59);
    ctx.fillText(o.p, a.right - 34, a.bottom - 9);
    ctx.restore();
  }
};

function axisGrid(majors) {
  return {
    drawTicks: true,
    tickLength: 11,
    tickWidth: 3,
    color: function (c) { return c.tick && isMajor(majors, c.tick.value) ? '#EBEBEB' : '#F0F0F0'; },
    lineWidth: function (c) { return c.tick && isMajor(majors, c.tick.value) ? 3.2 : 1.6; },
    tickColor: function (c) { return c.tick && isMajor(majors, c.tick.value) ? '#333333' : 'rgba(0,0,0,0)'; }
  };
}

panels.forEach(function (p, k) {
  var col = k % 3, row = Math.floor(k / 3);
  var cv = document.createElement('canvas');
  cv.className = 'panel';
  cv.width = padL + plotW + padR;
  cv.height = padT + plotH + padB;
  cv.style.left = (colLeft[col] - padL) + 'px';
  cv.style.top = (rowTop[row] - padT) + 'px';
  document.getElementById('page').appendChild(cv);

  var c = p.curves;
  var ptStyle = function (rgb) {
    return {showLine: false, pointRadius: 4.6, pointBorderWidth: 1.9,
      pointBackgroundColor: 'rgba(' + rgb + ',0.38)', pointBorderColor: 'rgba(' + rgb + ',0.62)', order: 20};
  };
  var band = function (data, rgb, fill, order) {
    return {data: curve(data), pointRadius: 0, borderWidth: 0, borderColor: 'rgba(0,0,0,0)',
      backgroundColor: 'rgba(' + rgb + ',0.2)', fill: fill, cubicInterpolationMode: 'monotone', order: order};
  };
  var fitLine = function (data, color, order) {
    return {data: curve(data), pointRadius: 0, borderWidth: 4, borderColor: color, fill: false,
      cubicInterpolationMode: 'monotone', order: order};
  };
  // points first, then both bands, then the two fitted lines on top
  var datasets = [
    Object.assign({label: '1.5T', data: xy(p.pts[0])}, ptStyle('248,118,109')),
    Object.assign({label: '3.0T', data: xy(p.pts[1])}, ptStyle('0,191,196')),
    band(c[1], '248,118,109', false, 9),
    band(c[2], '248,118,109', '-1', 8),
    fitLine(c[0], RED, 3),
    band(c[4], '0,191,196', false, 7),
    band(c[5], '0,191,196', '-1', 6),
    fitLine(c[3], TEAL, 2)
  ];

  var yAll = gridVals(p.ticks, p.y[0], p.y[1]);
  var xAll = gridVals(xTicks, -1, 21);

  new Chart(cv.getContext('2d'), {
    type: 'line',
    data: {datasets: datasets},
    plugins: [decor],
    options: {
      responsive: false,
      animation: false,
      events: [],
      layout: {padding: {top: padT, right: padR, left: 0, bottom: 0}},
      plugins: {
        legend: {display: false},
        tooltip: {enabled: false},
        filler: {drawTime: 'beforeDatasetDraw'},
        decor: {title: p.title, r2: p.r2, p: p.p}
      },
      scales: {
        x: {
          type: 'linear', min: -1, max: 21,
          afterBuildTicks: function (ax) { ax.ticks = xAll.map(function (v) { return {value: v}; }); },
          afterFit: function (ax) { ax.height = padB; },
          grid: axisGrid(xTicks),
          border: {display: false},
          ticks: {
            autoSkip: false, maxRotation: 0, padding: 3, color: '#4D4D4D',
            font: {family: 'Liberation Sans', size: 40},
            callback: function (v) { return isMajor(xTicks, v) ? String(v) : ''; }
          }
        },
        y: {
          type: 'linear', min: p.y[0], max: p.y[1],
          afterBuildTicks: function (ax) { ax.ticks = yAll.map(function (v) { return {value: v}; }); },
          afterFit: function (ax) { ax.width = padL; },
          grid: axisGrid(p.ticks),
          border: {display: false},
          ticks: {
            autoSkip: false, padding: 3, color: '#4D4D4D',
            font: {family: 'Liberation Sans', size: 40},
            callback: function (v) { return isMajor(p.ticks, v) ? v.toFixed(1) : ''; }
          }
        }
      }
    }
  });
});
</script>
</body>
</html>
